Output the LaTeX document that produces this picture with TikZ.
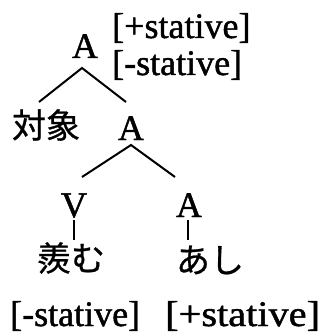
\documentclass[tikz,border=0pt]{standalone}
\usepackage{fontspec}
\setmainfont[FakeBold=1.2]{Liberation Serif}
\newfontfamily\cjk[FakeBold=0.8]{Noto Sans CJK JP}
\begin{document}
\begin{tikzpicture}[x=1pt,y=-1pt,
  lat/.style={font=\fontsize{36}{40}\selectfont, inner sep=0pt, anchor=base},
  feat/.style={font=\fontsize{36}{40}\selectfont, inner sep=0pt, anchor=base west},
  jp/.style={font=\cjk\fontsize{34}{38}\selectfont, inner sep=0pt, anchor=center},
  edge/.style={line width=2pt}]
\useasboundingbox (0,0) rectangle (323,334);
% nodes
\node[lat] (A1) at (85,58) {A};
\node[feat] (f1) at (112,38) {[+stative]};
\node[feat] (f2) at (112,75) {[-stative]};
\node[jp] (obj) at (46,125) {対象};
\node[lat] (A2) at (131,140) {A};
\node[lat] (V) at (74,217) {V};
\node[lat] (A3) at (189,217) {A};
\node[jp] (uray) at (71,258) {羨む};
\node[jp] (ashi) at (210,260) {あし};
\node[feat] (f3) at (10,326) {[-stative]};
\node[feat] (f4) at (165,326) {\scalebox{1.12}[1]{[+stative]}};
% connector ends
\coordinate (a1) at (82,68);
\coordinate (a1l) at (39,102);
\coordinate (a1r) at (126,102);
\coordinate (a2) at (131,145);
\coordinate (a2l) at (82,177);
\coordinate (a2r) at (175,177);
\coordinate (vt) at (74,220);
\coordinate (vb) at (74,240);
\coordinate (at) at (188,220);
\coordinate (ab) at (188,240);
% connectors
\draw[edge] (a1l) -- (a1) -- (a1r);
\draw[edge] (a2l) -- (a2) -- (a2r);
\draw[edge] (vt) -- (vb);
\draw[edge] (at) -- (ab);
\end{tikzpicture}
\end{document}
